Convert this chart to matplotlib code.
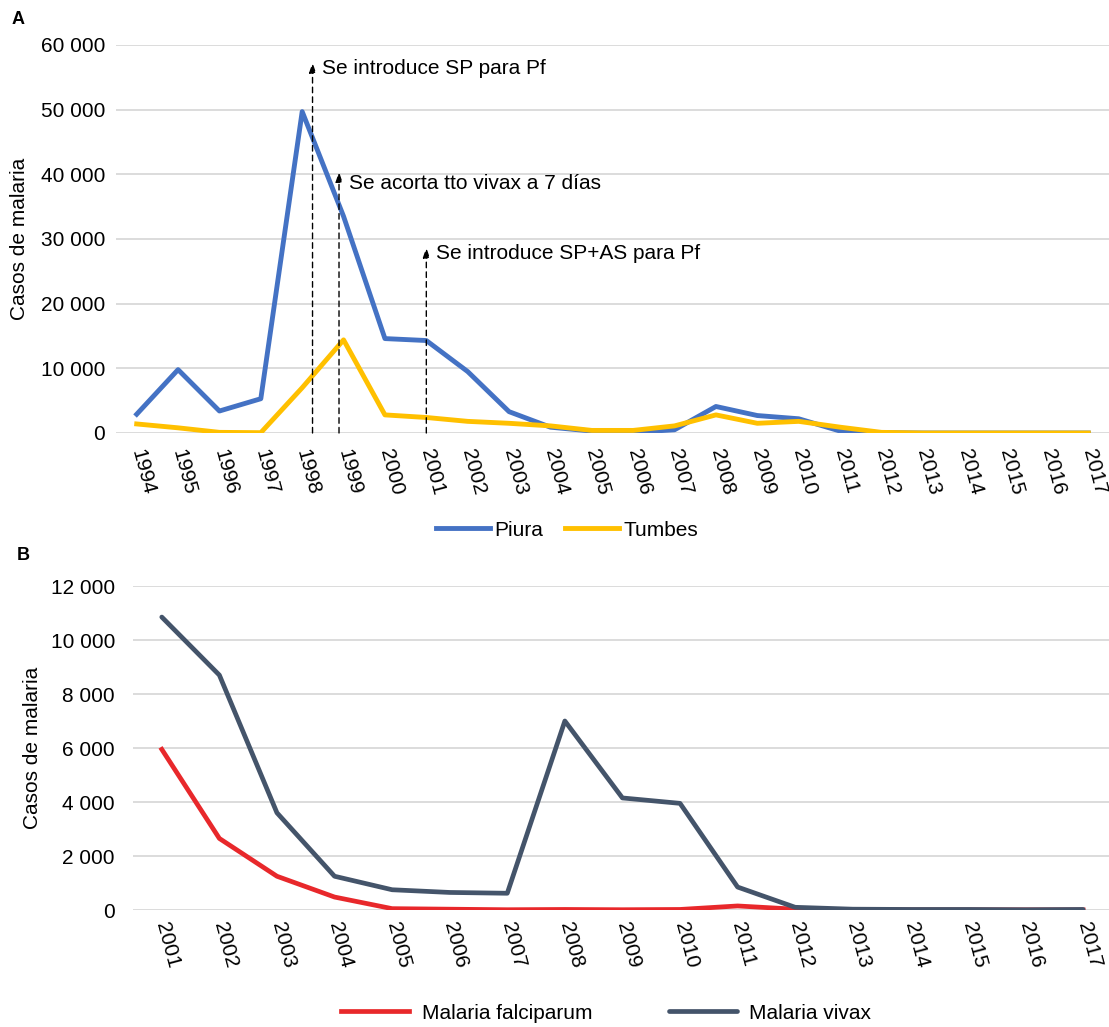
import matplotlib.pyplot as plt
import numpy as np

plt.rcParams['font.family'] = ['Liberation Sans', 'DejaVu Sans']

# Panel A data
years_a = [str(y) for y in range(1994, 2018)]
piura = [2900, 9800, 3400, 5300, 49700, 33500, 14600, 14300, 9500, 3300, 900, 300,
         100, 500, 4100, 2700, 2200, 300, 50, 0, 0, 0, 0, 0]
tumbes = [1400, 800, 100, 50, 7000, 14400, 2800, 2400, 1800, 1500, 1100, 400,
          400, 1100, 2800, 1500, 1800, 900, 100, 0, 0, 0, 0, 0]

# annotations: (year position, arrow top, text y, text)
events = [(1998.25, 57300, 56400, "Se introduce SP para Pf"),
          (1998.89, 40400, 38600, "Se acorta tto vivax a 7 días"),
          (2001.0, 28700, 27800, "Se introduce SP+AS para Pf")]

# Panel B data
years_b = [str(y) for y in range(2001, 2018)]
falciparum = [5950, 2650, 1250, 480, 50, 30, 10, 20, 10, 20, 150, 30, 10, 5, 5, 5, 5]
vivax = [10850, 8700, 3600, 1250, 750, 650, 620, 7000, 4150, 3950, 850, 100, 30,
         20, 20, 10, 20]


def fmt(v):
    return f"{int(v):,}".replace(",", " ")


fig = plt.figure(figsize=(11.09, 10.27), dpi=100)

grid_color = "#D9D9D9"
fs = 15

# ---- Panel A
ax1 = fig.add_axes([116 / 1109, 1 - 433 / 1027, 993 / 1109, 388 / 1027])
x = np.arange(len(years_a))
ax1.plot(x, piura, color="#4472C4", lw=3.5, label="Piura")
ax1.plot(x, tumbes, color="#FFC000", lw=3.5, label="Tumbes")
ax1.set_xlim(-0.5, 23.5)
ax1.set_ylim(0, 60000)
ax1.set_yticks(np.arange(0, 60001, 10000))
ax1.set_yticklabels([fmt(v) for v in np.arange(0, 60001, 10000)], fontsize=fs)
ax1.set_xticks(x)
ax1.set_xticklabels(years_a, fontsize=fs, rotation=-75, ha="left", va="center",
                    rotation_mode="anchor")
ax1.set_ylabel("Casos de malaria", fontsize=fs, labelpad=8)
ax1.tick_params(axis="y", length=0, pad=8)
ax1.tick_params(axis="x", length=0, pad=12)

for xe, ytop, ytxt, txt in events:
    xp = xe - 1994
    ax1.annotate("", xy=(xp, ytop), xytext=(xp, 0),
                 arrowprops=dict(arrowstyle="-|>,head_length=0.6,head_width=0.2",
                                 ls=(0, (4, 3)), lw=1, color="black",
                                 shrinkA=0, shrinkB=0))
    ax1.text(xp + 0.24, ytxt, txt, fontsize=fs, va="center", ha="left")

ax1.legend(loc="center", bbox_to_anchor=(0.454, -0.25), ncol=2, frameon=False,
           fontsize=fs, handlelength=2.6, columnspacing=1.05, handletextpad=0.2)

# ---- Panel B
ax2 = fig.add_axes([133 / 1109, 1 - 910 / 1027, 976 / 1109, 324 / 1027])
xb = np.arange(len(years_b))
ax2.plot(xb, falciparum, color="#E8282B", lw=3.4, label="Malaria falciparum")
ax2.plot(xb, vivax, color="#44546A", lw=3.4, label="Malaria vivax",
         solid_capstyle="round")
ax2.set_xlim(-0.5, 16.45)
ax2.set_ylim(0, 12000)
ax2.set_yticks(np.arange(0, 12001, 2000))
ax2.set_yticklabels([fmt(v) for v in np.arange(0, 12001, 2000)], fontsize=fs)
ax2.set_xticks(xb)
ax2.set_xticklabels(years_b, fontsize=fs, rotation=-75, ha="left", va="center",
                    rotation_mode="anchor")
ax2.set_ylabel("Casos de malaria", fontsize=fs, labelpad=6)
ax2.tick_params(axis="y", length=0, pad=13)
ax2.tick_params(axis="x", length=0, pad=9)
ax2.legend(loc="center", bbox_to_anchor=(0.485, -0.318), ncol=2, frameon=False,
           fontsize=fs, handlelength=3.25, columnspacing=3.7, handletextpad=0.6)

for ax in (ax1, ax2):
    for s in ax.spines.values():
        s.set_visible(False)
    ax.grid(axis="y", color=grid_color, lw=1.3)
    ax.set_axisbelow(True)

fig.text(12 / 1109, 1 - 20 / 1027, "A", fontsize=13, fontweight="bold", va="center")
fig.text(17 / 1109, 1 - 556 / 1027, "B", fontsize=13, fontweight="bold", va="center")

fig.savefig("out.png", dpi=100)
